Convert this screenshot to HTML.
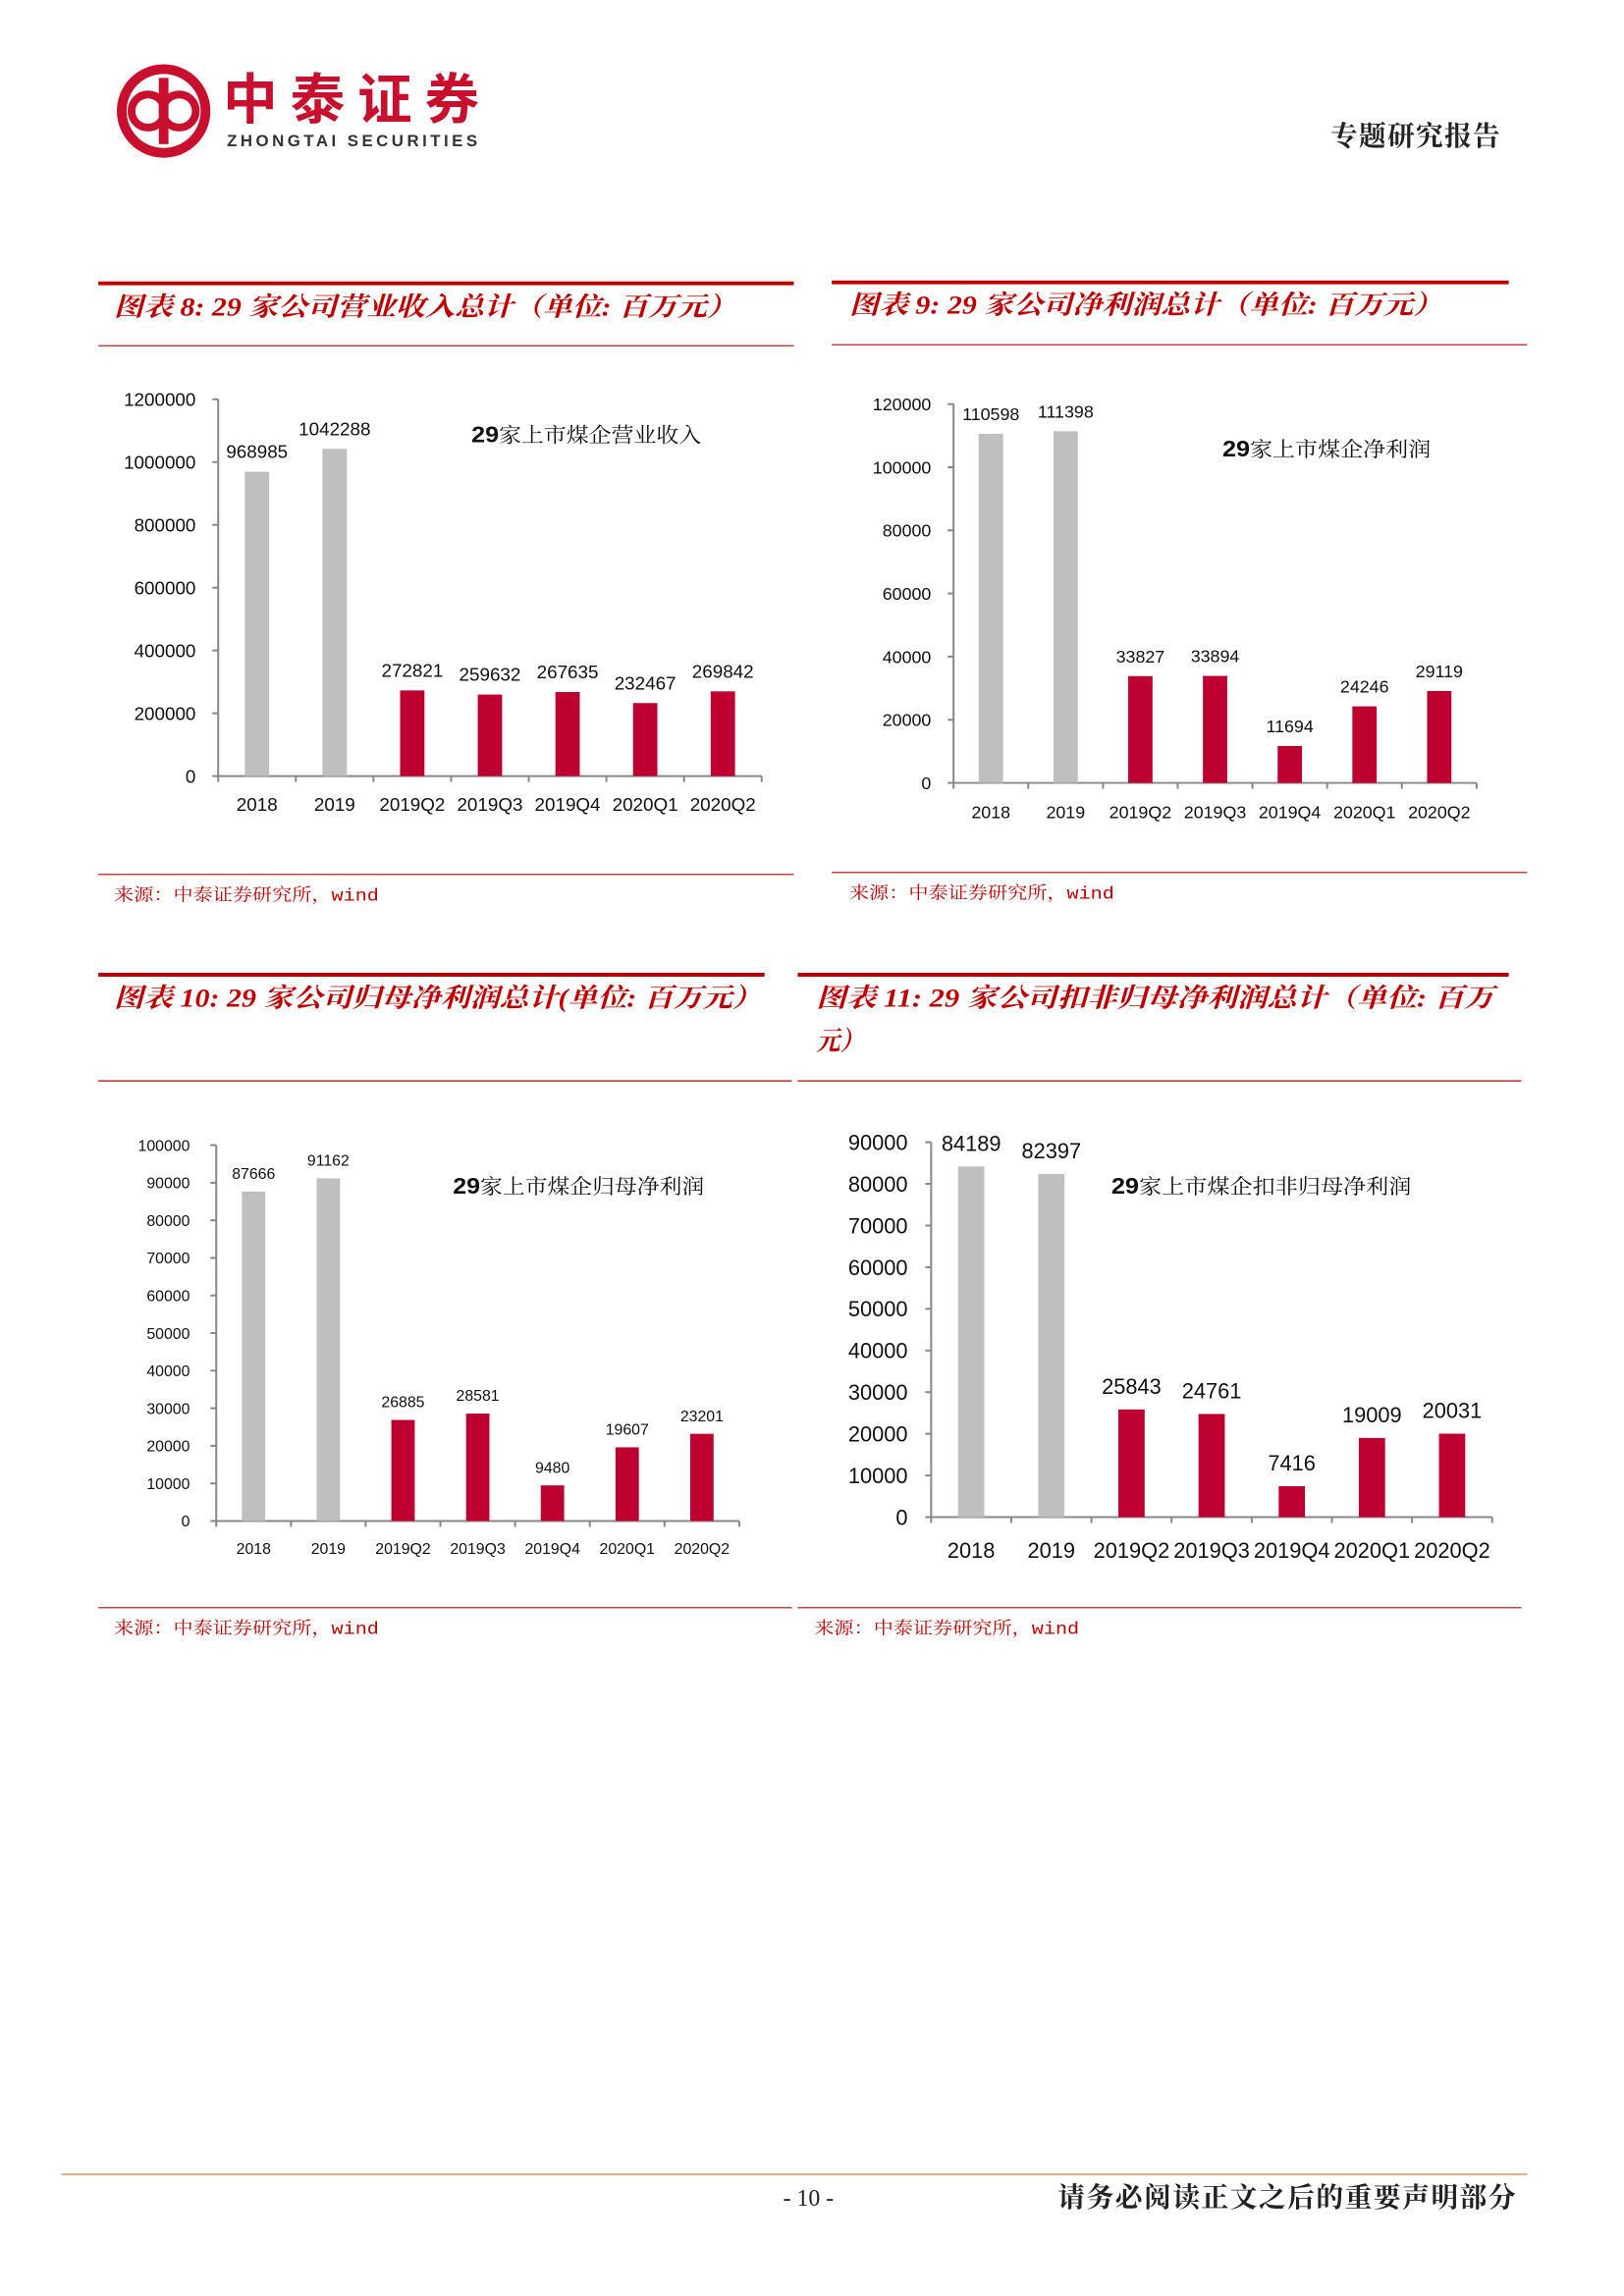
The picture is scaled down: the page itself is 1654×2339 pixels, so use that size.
<!DOCTYPE html>
<html><head><meta charset="utf-8"><style>
html,body{margin:0;padding:0;background:#fff}
svg{display:block}
text{font-family:"Liberation Sans","DejaVu Sans","Noto Sans CJK SC",sans-serif}
.ttl{font-family:"Liberation Serif","Noto Serif CJK SC",serif;font-style:italic;font-weight:bold;fill:#c00000}
.src{font-family:"Liberation Mono","Noto Serif CJK SC",serif;fill:#c00000}
</style></head><body>
<svg id="page" width="1654" height="2339" viewBox="0 0 1654 2339" xmlns="http://www.w3.org/2000/svg">
 <g transform="scale(0.992)">
  <g>
    <circle cx="168" cy="114" r="48" fill="#c8102e"/>
    <circle cx="168" cy="114" r="38" fill="#fff"/>
    <circle cx="152" cy="114" r="17" fill="none" stroke="#c8102e" stroke-width="8"/>
    <circle cx="184" cy="114" r="17" fill="none" stroke="#c8102e" stroke-width="8"/>
    <rect x="163" y="80" width="10" height="68" fill="#c8102e"/>
  </g>
  <text x="229" y="122" font-size="56" font-weight="bold" fill="#c8102e" textLength="263" style="font-family:'Noto Sans CJK SC',sans-serif">中泰证券</text>
  <text x="233" y="150" font-size="17" font-weight="bold" fill="#333" textLength="257">ZHONGTAI SECURITIES</text>
  <text x="1540" y="149" font-size="28" font-weight="bold" text-anchor="end" fill="#222" style="font-family:'Noto Serif CJK SC',serif" textLength="174">专题研究报告</text>
 </g>
  <g id="charts"></g>
  <g id="charts-scaled" transform="scale(0.992)"></g>
 <g transform="scale(0.992)">
  <line x1="63" y1="2233" x2="1568" y2="2233" stroke="#d9b38c" stroke-width="2"/>
  <text x="830" y="2265" font-size="24" text-anchor="middle" fill="#222" style="font-family:'Liberation Serif',serif">- 10 -</text>
  <text x="1556" y="2266" font-size="28" font-weight="bold" text-anchor="end" fill="#222" textLength="470" style="font-family:'Noto Serif CJK SC',serif">请务必阅读正文之后的重要声明部分</text>
 </g>
</svg>
<script>
const categories = ["2018","2019","2019Q2","2019Q3","2019Q4","2020Q1","2020Q2"];
const revenueValues = [968985,1042288,272821,259632,267635,232467,269842];
const revenueTicks = [0,200000,400000,600000,800000,1000000,1200000];
const netProfitValues = [110598,111398,33827,33894,11694,24246,29119];
const netProfitTicks = [0,20000,40000,60000,80000,100000,120000];
const parentProfitValues = [87666,91162,26885,28581,9480,19607,23201];
const parentProfitTicks = [0,10000,20000,30000,40000,50000,60000,70000,80000,90000,100000];
const deductedProfitValues = [84189,82397,25843,24761,7416,19009,20031];
const deductedProfitTicks = [0,10000,20000,30000,40000,50000,60000,70000,80000,90000];

const NS = "http://www.w3.org/2000/svg";
const root = document.getElementById("charts");
const rootScaled = document.getElementById("charts-scaled");
function mk(tag, attrs, parent, txt){
  const e = document.createElementNS(NS, tag);
  for (const k in attrs) e.setAttribute(k, attrs[k]);
  if (txt !== undefined) e.textContent = txt;
  (parent||root).appendChild(e);
  return e;
}

const charts = [
 {id:"chart-8", scaled:true, values:revenueValues, ticks:revenueTicks,
  hx1:101,hx2:815,redY:291,thinX2:815,thinY:355,
  titles:[["图表 8:  29 家公司营业收入总计（单位:  百万元）",117,324,639]],
  ax:224,ax2:782,top:410,zero:797,tickR:201,tickFs:19,bw:25,catY:826,catFs:19,valFs:19,valOff:14,
  legend:"家上市煤企营业收入",legX:484,legY:454,legW:236,
  srcY:898,srcTextY:925,srcX:117,srcX2:815},
 {id:"chart-9", scaled:true, values:netProfitValues, ticks:netProfitTicks,
  hx1:854,hx2:1549,redY:290,thinX2:1568,thinY:354,
  titles:[["图表 9:  29 家公司净利润总计（单位:  百万元）",872,322,609]],
  ax:979,ax2:1516,top:415,zero:804,tickR:956,tickFs:18,bw:25,catY:834,catFs:18,valFs:18,valOff:14,
  legend:"家上市煤企净利润",legX:1255,legY:469,legW:214,
  srcY:896,srcTextY:923,srcX:872,srcX2:1568},
 {id:"chart-10", scaled:true, values:parentProfitValues, ticks:parentProfitTicks,
  hx1:101,hx2:785,redY:1001,thinX2:813,thinY:1110,
  titles:[["图表 10: 29 家公司归母净利润总计(单位: 百万元）",117,1034,665]],
  ax:222,ax2:759,top:1176,zero:1562,tickR:195,tickFs:16,bw:24,catY:1590,catFs:16,valFs:16,valOff:13,
  legend:"家上市煤企归母净利润",legX:465,legY:1226,legW:258,
  srcY:1651,srcTextY:1678,srcX:117,srcX2:813},
 {id:"chart-11", scaled:true, values:deductedProfitValues, ticks:deductedProfitTicks,
  hx1:819,hx2:1549,redY:1001,thinX2:1562,thinY:1110,
  titles:[["图表 11:  29 家公司扣非归母净利润总计（单位:  百万",838,1034,696],["元）",838,1078,49]],
  ax:956,ax2:1532,top:1173,zero:1558,tickR:932,tickFs:22,bw:27,catY:1592,catFs:22,valFs:22,valOff:16,
  legend:"家上市煤企扣非归母净利润",legX:1141,legY:1226,legW:308,
  srcY:1651,srcTextY:1678,srcX:836,srcX2:1562}
];

charts.forEach(c => {
  const g = mk("g", {}, c.scaled ? rootScaled : root);
  
  
  const r = mk("line", {x1:c.hx1,y1:c.redY,x2:c.hx2,y2:c.redY,stroke:"#c00000","stroke-width":4}, g);
  
  
  c.titles.forEach(t => {
    const tt = mk("text", {x:t[1],y:t[2],"font-size":27,"class":"ttl",textLength:t[3],lengthAdjust:"spacingAndGlyphs"}, g, t[0]);
    
    
  });
  const tl = mk("line", {x1:c.hx1,y1:c.thinY,x2:c.thinX2,y2:c.thinY,stroke:"#c00000","stroke-width":1.2}, g);
  
  

  const maxT = c.ticks[c.ticks.length-1];
  const yScale = v => c.zero - (v / maxT) * (c.zero - c.top);
  const band = (c.ax2 - c.ax) / categories.length;
  const xCenter = i => c.ax + band * (i + 0.5);

  const ya = mk("line", {x1:c.ax,y1:c.top,x2:c.ax,y2:c.zero,stroke:"#888","stroke-width":2}, g);
  
  
  c.ticks.forEach(t => {
    const y = yScale(t);
    const tk = mk("line", {x1:c.ax-6,y1:y,x2:c.ax,y2:y,stroke:"#888","stroke-width":2}, g);
    
    
    const lb = mk("text", {x:c.tickR,y:y+c.tickFs*0.36,"font-size":c.tickFs,"text-anchor":"end",fill:"#111"}, g, String(t));
    
    
  });
  const xa = mk("line", {x1:c.ax,y1:c.zero,x2:c.ax2,y2:c.zero,stroke:"#888","stroke-width":2}, g);
  
  
  for (let i = 0; i <= categories.length; i++) {
    const x = c.ax + band * i;
    const tk = mk("line", {x1:x,y1:c.zero,x2:x,y2:c.zero+6,stroke:"#888","stroke-width":2}, g);
    
    
  }
  categories.forEach((cat, i) => {
    const v = c.values[i];
    const y = yScale(v);
    const b = mk("rect", {x:xCenter(i)-c.bw/2,y:y,width:c.bw,height:c.zero-y,fill:i<2?"#bfbfbf":"#be0030"}, g);
    
    
    const vl = mk("text", {x:xCenter(i),y:y-c.valOff,"font-size":c.valFs,"text-anchor":"middle",fill:"#111"}, g, String(v));
    
    
    const cl = mk("text", {x:xCenter(i),y:c.catY+c.catFs*0.35,"font-size":c.catFs,"text-anchor":"middle",fill:"#111"}, g, cat);
    
    
  });
  const lg = mk("text", {x:c.legX,y:c.legY,"font-size":21,fill:"#111",textLength:c.legW,lengthAdjust:"spacingAndGlyphs",style:"font-family:'Liberation Sans','Noto Serif CJK SC',serif"}, g);
  
  
  mk("tspan", {"font-weight":"bold","font-size":23,style:"font-family:'Liberation Sans',sans-serif"}, lg, "29");
  mk("tspan", {}, lg, c.legend);
  const sl = mk("line", {x1:c.hx1,y1:c.srcY,x2:c.srcX2,y2:c.srcY,stroke:"#c00000","stroke-width":1.2}, g);
  
  
  const st = mk("text", {x:c.srcX,y:c.srcTextY,"font-size":18,"class":"src",textLength:272,lengthAdjust:"spacingAndGlyphs"}, g, "来源：中泰证券研究所，wind");
  
  
});
</script>
</body></html>
